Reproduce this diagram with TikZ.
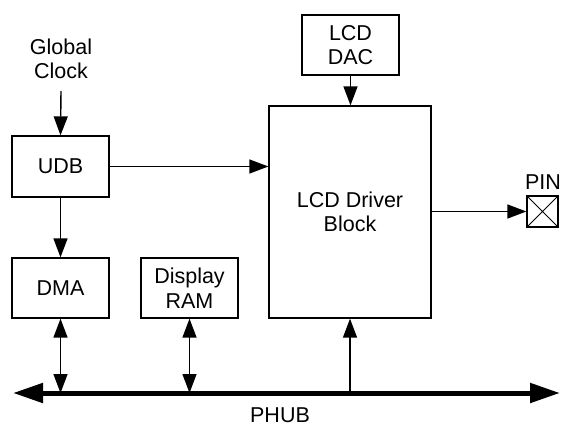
\documentclass[tikz,border=0pt]{standalone}
\usepackage{fontspec}
\setmainfont{Liberation Sans}
\usetikzlibrary{arrows.meta}
\begin{document}
\begin{tikzpicture}[x=1pt,y=-1pt,
  every node/.style={font=\fontsize{21.5}{24.5}\selectfont},
  blk/.style={draw,line width=1.3pt,rectangle,inner sep=0pt,align=center,minimum width=97pt,minimum height=60pt},
  lbl/.style={align=center,inner sep=0pt},
  conn/.style={line width=1.4pt,-{Triangle[length=19pt,width=14pt]}},
  bidir/.style={line width=1.4pt,{Triangle[length=19pt,width=14pt]}-{Triangle[length=19pt,width=14pt]}},
  bus/.style={line width=5pt,{Triangle[length=30pt,width=19pt]}-{Triangle[length=30pt,width=19pt]}}]
\useasboundingbox (0,0) rectangle (561,428);
% blocks
\node[blk,minimum height=61pt] (udb) at (60.5,166.5) {UDB};
\node[blk] (dma) at (60.5,288) {DMA};
\node[blk] (ram) at (189.5,288) {Display\\RAM};
\node[blk,minimum width=162pt,minimum height=212pt] (lcd) at (350,212) {LCD Driver\\Block};
\node[blk] (dac) at (350.5,45) {LCD\\DAC};
\node[draw,line width=1.3pt,minimum width=31pt,minimum height=31pt,inner sep=0pt] (pin) at (542.5,211.5) {};
\draw[line width=1pt] (pin.north west) -- (pin.south east) (pin.north east) -- (pin.south west);
% labels
\node[lbl] (gclk) at (61,59) {Global\\Clock};
\node[lbl] (pinl) at (543,182) {PIN};
\node[lbl] (phub) at (280,415) {PHUB};
% bus
\coordinate (busL) at (13,393);
\coordinate (busR) at (560,393);
\draw[bus] (busL) -- (busR);
\coordinate (bDMA) at (dma.south |- busL);
\coordinate (bRAM) at (ram.south |- busL);
\coordinate (bLCD) at (lcd.south |- busL);
\coordinate (gsrc) at (61,91);
% connectors
\draw[conn] (gsrc) -- (udb.north);
\draw[conn] (udb.south) -- (dma.north);
\draw[conn] (udb.east) -- (udb.east -| lcd.west);
\draw[conn] (dac.south) -- (dac.south |- lcd.north);
\draw[conn] (lcd.east |- pin.west) -- (pin.west);
\draw[bidir] (dma.south) -- (bDMA);
\draw[bidir] (ram.south) -- (bRAM);
\draw[conn] (bLCD) -- (lcd.south);
\end{tikzpicture}
\end{document}
